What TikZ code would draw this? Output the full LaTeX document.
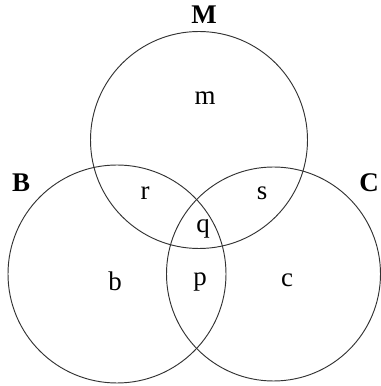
\documentclass[tikz,border=0pt]{standalone}
\usepackage{fontspec}
\setmainfont{Liberation Serif}
\usepackage{tikz}

\begin{document}
\begin{tikzpicture}[
  x=0.03cm, y=0.03cm,
  font=\fontsize{23}{27}\selectfont,
  setring/.style={draw=black!80, line width=0.8pt},
  setname/.style={font=\fontsize{23}{27}\selectfont\bfseries, inner sep=0pt},
  region/.style={inner sep=0pt}
]
\useasboundingbox (0,0) rectangle (380,386);

% the three sets
\draw[setring] (199,246) circle (108.5);
\draw[setring] (117,112) circle (109);
\draw[setring] (273.5,112) circle (107);

% set names
\node[setname] (M) at (204,371) {M};
\node[setname] (B) at (21,203) {B};
\node[setname] (C) at (369,203) {C};

% regions
\node[region] (m) at (205,288) {m};
\node[region] (r) at (145,193) {r};
\node[region] (s) at (262,193) {s};
\node[region] (q) at (203,157) {q};
\node[region] (b) at (115,105) {b};
\node[region] (p) at (200,104) {p};
\node[region] (c) at (287,106) {c};
\end{tikzpicture}
\end{document}
